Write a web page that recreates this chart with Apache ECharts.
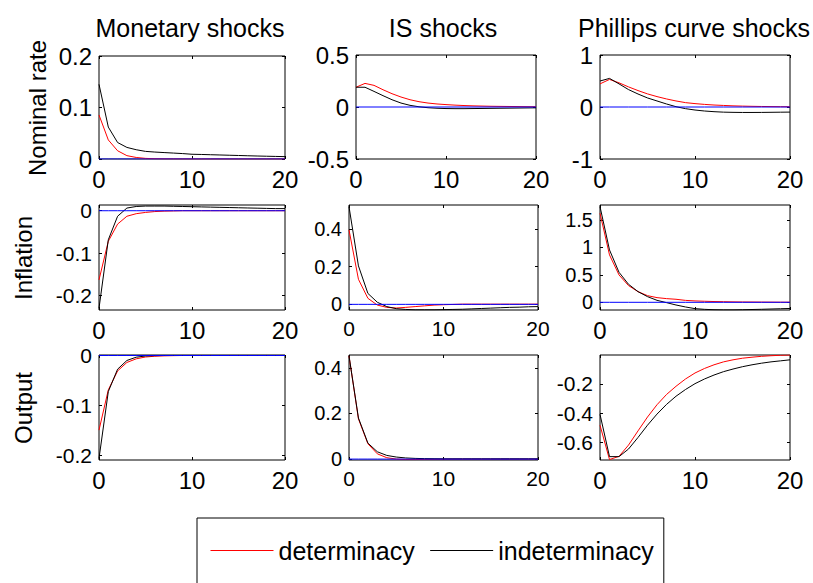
<!DOCTYPE html>
<html>
<head>
<meta charset="utf-8">
<script src="https://cdn.jsdelivr.net/npm/echarts@6/dist/echarts.min.js"></script>
<style>
html,body{margin:0;padding:0;background:#fff;}
#chart{width:813px;height:583px;}
</style>
</head>
<body>
<div id="chart"></div>
<script>
// ---------- data ----------
const periods = [0,1,2,3,4,5,6,7,8,9,10,11,12,13,14,15,16,17,18,19,20];
const colTitles = ['Monetary shocks', 'IS shocks', 'Phillips curve shocks'];
const rowNames = ['Nominal rate', 'Inflation', 'Output'];
const seriesNames = ['determinacy', 'indeterminacy'];
const seriesColors = ['#ff0000', '#000000'];
const zeroLine = [0,0,0,0,0,0,0,0,0,0,0,0,0,0,0,0,0,0,0,0,0];

const rateMonDet = [0.0855,0.037,0.016,0.0065,0.003,0.0012,0.0005,0.0002,0.0001,0,0,0,0,0,0,0,0,0,0,0,0];
const rateMonInd = [0.145,0.062,0.032,0.0225,0.018,0.0148,0.0135,0.0125,0.0115,0.0105,0.0092,0.0088,0.0083,0.0078,0.0073,0.0068,0.0063,0.0058,0.0054,0.005,0.0046];
const rateIsDet = [0.19,0.227,0.208,0.166,0.128,0.096,0.070,0.051,0.038,0.029,0.023,0.018,0.014,0.011,0.009,0.007,0.006,0.005,0.004,0.003,0.003];
const rateIsInd = [0.19,0.19,0.15,0.109,0.07,0.038,0.016,0.002,-0.007,-0.012,-0.015,-0.016,-0.016,-0.015,-0.014,-0.013,-0.012,-0.011,-0.010,-0.009,-0.008];
const ratePcDet = [0.445,0.53,0.465,0.387,0.316,0.252,0.2,0.155,0.116,0.084,0.065,0.05,0.038,0.03,0.022,0.017,0.013,0.01,0.008,0.006,0.005];
const ratePcInd = [0.5,0.55,0.445,0.335,0.25,0.174,0.116,0.058,0.006,-0.032,-0.058,-0.077,-0.09,-0.099,-0.103,-0.105,-0.105,-0.104,-0.102,-0.1,-0.098];

const inflMonDet = [-0.163,-0.072,-0.0315,-0.013,-0.007,-0.004,-0.002,-0.001,-0.0005,0,0,0,0,0,0,0,0,0,0,0,0];
const inflMonInd = [-0.23,-0.0685,-0.013,0.0063,0.01,0.011,0.011,0.011,0.0105,0.01,0.0095,0.009,0.0085,0.008,0.0075,0.007,0.0065,0.006,0.0055,0.005,0.005];
const inflIsDet = [0.395,0.133,0.032,-0.004,-0.016,-0.0195,-0.016,-0.012,-0.008,-0.004,-0.002,-0.0005,0.001,0.001,0.001,0.001,0.001,0.001,0.001,0.001,0.001];
const inflIsInd = [0.518,0.204,0.058,0.011,-0.012,-0.023,-0.027,-0.029,-0.029,-0.029,-0.028,-0.027,-0.026,-0.024,-0.022,-0.02,-0.018,-0.016,-0.015,-0.013,-0.012];
const inflPcDet = [1.62,0.862,0.498,0.304,0.194,0.121,0.085,0.067,0.055,0.035,0.025,0.019,0.014,0.011,0.008,0.006,0.005,0.004,0.003,0.002,0.002];
const inflPcInd = [1.74,0.953,0.546,0.328,0.194,0.103,0.036,-0.006,-0.049,-0.085,-0.115,-0.128,-0.135,-0.138,-0.138,-0.135,-0.131,-0.127,-0.122,-0.117,-0.112];

const outMonDet = [-0.15,-0.069,-0.031,-0.014,-0.0067,-0.003,-0.0015,-0.0007,-0.0003,0,0,0,0,0,0,0,0,0,0,0,0];
const outMonInd = [-0.207,-0.0725,-0.0275,-0.01,-0.0034,-0.001,-0.0003,0,0,0,0,0,0,0,0,0,0,0,0,0,0];
const outIsDet = [0.452,0.176,0.067,0.023,0.006,0.0,-0.002,-0.002,-0.0015,-0.001,-0.0005,0,0,0,0,0,0,0,0,0,0];
const outIsInd = [0.452,0.18,0.07,0.032,0.016,0.009,0.005,0.003,0.002,0.0015,0.001,0.001,0.001,0.001,0.001,0.001,0.001,0.001,0.001,0.001,0.001];
const outPcDet = [-0.482,-0.717,-0.695,-0.618,-0.521,-0.426,-0.342,-0.272,-0.216,-0.166,-0.125,-0.094,-0.069,-0.049,-0.035,-0.024,-0.017,-0.011,-0.007,-0.004,-0.002];
const outPcInd = [-0.408,-0.697,-0.697,-0.645,-0.566,-0.482,-0.406,-0.34,-0.284,-0.238,-0.198,-0.166,-0.139,-0.116,-0.098,-0.082,-0.069,-0.058,-0.049,-0.042,-0.035];

const xTicks = [0, 10, 20];
const yTicksRateMon = [0, 0.1, 0.2];
const yTicksRateIs = [-0.5, 0, 0.5];
const yTicksRatePc = [-1, 0, 1];
const yTicksInflMon = [-0.2, -0.1, 0];
const yTicksInflIs = [0, 0.2, 0.4];
const yTicksInflPc = [0, 0.5, 1, 1.5];
const yTicksOutMon = [-0.2, -0.1, 0];
const yTicksOutIs = [0, 0.2, 0.4];
const yTicksOutPc = [-0.6, -0.4, -0.2];

// ---------- panels (data + axis limits) ----------
const panels = [
  {det: rateMonDet, ind: rateMonInd, yTicks: yTicksRateMon, ymin: 0, ymax: 0.2},
  {det: rateIsDet, ind: rateIsInd, yTicks: yTicksRateIs, ymin: -0.5, ymax: 0.5},
  {det: ratePcDet, ind: ratePcInd, yTicks: yTicksRatePc, ymin: -1, ymax: 1},
  {det: inflMonDet, ind: inflMonInd, yTicks: yTicksInflMon, ymin: -0.234, ymax: 0.0135},
  {det: inflIsDet, ind: inflIsInd, yTicks: yTicksInflIs, ymin: -0.03, ymax: 0.527},
  {det: inflPcDet, ind: inflPcInd, yTicks: yTicksInflPc, ymin: -0.14, ymax: 1.77},
  {det: outMonDet, ind: outMonInd, yTicks: yTicksOutMon, ymin: -0.21, ymax: 0.001},
  {det: outIsDet, ind: outIsInd, yTicks: yTicksOutIs, ymin: -0.004, ymax: 0.456},
  {det: outPcDet, ind: outPcInd, yTicks: yTicksOutPc, ymin: -0.72, ymax: -0.002}
];

// ---------- layout ----------
const layout = [
  {left: 99, top: 56, width: 186, height: 103, yFs: 24, xFs: 24},
  {left: 356, top: 55, width: 180, height: 104, yFs: 24, xFs: 24},
  {left: 600, top: 55, width: 190, height: 104, yFs: 24, xFs: 24},
  {left: 99, top: 205, width: 186, height: 105, yFs: 21, xFs: 24},
  {left: 349, top: 205, width: 189, height: 105, yFs: 20, xFs: 21},
  {left: 600, top: 205, width: 190, height: 105, yFs: 20, xFs: 24},
  {left: 99, top: 355, width: 186, height: 105, yFs: 21, xFs: 24},
  {left: 349, top: 355, width: 189, height: 105, yFs: 20, xFs: 21},
  {left: 600, top: 355, width: 190, height: 105, yFs: 21, xFs: 24}
];
const FONT = 'Liberation Sans, Arial, Helvetica, sans-serif';
const fmt = v => String(Math.round(v * 1000) / 1000);
const pair = arr => periods.map((p, k) => [p, arr[k]]);

const grid = [], xAxis = [], yAxis = [], series = [];
panels.forEach((p, i) => {
  const L = layout[i];
  grid.push({left: L.left, top: L.top, width: L.width, height: L.height, show: true,
    borderColor: '#000', borderWidth: 1, backgroundColor: '#fff', containLabel: false});
  const tick = {show: true, inside: true, length: 3, lineStyle: {color: '#000', width: 1}};
  const noLine = {show: false, onZero: false};
  xAxis.push({gridIndex: i, type: 'value', min: 0, max: 20, position: 'bottom',
    axisLine: noLine, splitLine: {show: false},
    axisTick: Object.assign({customValues: xTicks}, tick),
    axisLabel: {customValues: xTicks, formatter: fmt, fontSize: L.xFs, color: '#000', fontFamily: FONT, margin: 8}});
  xAxis.push({gridIndex: i, type: 'value', min: 0, max: 20, position: 'top',
    axisLine: noLine, splitLine: {show: false},
    axisTick: Object.assign({customValues: xTicks}, tick), axisLabel: {show: false}});
  yAxis.push({gridIndex: i, type: 'value', min: p.ymin, max: p.ymax, position: 'left',
    axisLine: noLine, splitLine: {show: false},
    axisTick: Object.assign({customValues: p.yTicks}, tick),
    axisLabel: {customValues: p.yTicks, formatter: fmt, fontSize: L.yFs, color: '#000', fontFamily: FONT, margin: 7}});
  yAxis.push({gridIndex: i, type: 'value', min: p.ymin, max: p.ymax, position: 'right',
    axisLine: noLine, splitLine: {show: false},
    axisTick: Object.assign({customValues: p.yTicks}, tick), axisLabel: {show: false}});
  const base = {type: 'line', xAxisIndex: 2 * i, yAxisIndex: 2 * i, symbol: 'none', showSymbol: false,
    animation: false, clip: true, silent: true};
  series.push(Object.assign({}, base, {name: seriesNames[0], data: pair(p.det), color: seriesColors[0], lineStyle: {color: seriesColors[0], width: 1}, itemStyle: {color: seriesColors[0]}}));
  series.push(Object.assign({}, base, {name: seriesNames[1], data: pair(p.ind), color: seriesColors[1], lineStyle: {color: seriesColors[1], width: 1}, itemStyle: {color: seriesColors[1]}}));
  // zero reference line, only where zero lies inside the panel's range
  if (p.ymin <= 0 && p.ymax >= 0) {
    series.push(Object.assign({}, base, {name: 'zero', data: pair(zeroLine), color: '#0000ff', lineStyle: {color: '#0000ff', width: 1}, itemStyle: {color: '#0000ff'}}));
  }
});

const titleX = [190, 443, 694];
const rowLabelPos = [{x: 37, y: 108}, {x: 23, y: 258}, {x: 23, y: 408}];
const graphic = [];
colTitles.forEach((t, c) => graphic.push({type: 'text', x: titleX[c], y: 28,
  style: {text: t, font: '25px ' + FONT, fill: '#000', align: 'center', verticalAlign: 'middle'}}));
rowNames.forEach((t, r) => graphic.push({type: 'text', x: rowLabelPos[r].x, y: rowLabelPos[r].y, rotation: Math.PI / 2,
  style: {text: t, font: '24px ' + FONT, fill: '#000', align: 'center', verticalAlign: 'middle'}}));

const chart = echarts.init(document.getElementById('chart'), null, {renderer: 'svg'});
chart.setOption({
  animation: false,
  backgroundColor: '#fff',
  grid, xAxis, yAxis, series, graphic,
  legend: {
    data: seriesNames,
    left: 197, top: 518, orient: 'horizontal',
    padding: [20, 10, 60, 13], itemGap: 15, itemWidth: 63, itemHeight: 14,
    itemStyle: {opacity: 0},
    lineStyle: {width: 1},
    borderColor: '#000', borderWidth: 1, backgroundColor: '#fff',
    textStyle: {fontSize: 25, color: '#000', fontFamily: FONT},
    selectedMode: false
  }
});
</script>
</body>
</html>
